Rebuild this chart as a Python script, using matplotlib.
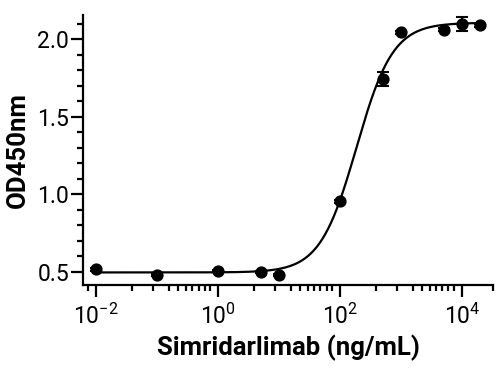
import matplotlib
matplotlib.use("Agg")
import matplotlib.pyplot as plt
import matplotlib.ticker as mticker
import numpy as np

plt.rcParams['font.family'] = ['Roboto', 'DejaVu Sans']
plt.rcParams['mathtext.fontset'] = 'custom'
plt.rcParams['mathtext.rm'] = 'Roboto'
plt.rcParams['mathtext.default'] = 'regular'

# measured points (ng/mL vs OD450)
conc = [0.01, 0.1, 1, 5, 10, 100, 500, 1000, 5000, 10000, 20000]
od = [0.515, 0.479, 0.506, 0.498, 0.480, 0.955, 1.741, 2.045, 2.061, 2.100, 2.088]
sd = [0.008, 0.006, 0.006, 0.006, 0.006, 0.010, 0.045, 0.010, 0.012, 0.045, 0.010]

# 4PL fit parameters
bottom, top, log_ec50, hill = 0.495, 2.105, 2.27, 1.45

x_major = [1e-2, 1e0, 1e2, 1e4]
x_labels = ['$10^{-2}$', '$10^{0}$', '$10^{2}$', '$10^{4}$']
minor_offsets = [0.59, 0.94, 1.20, 1.35, 1.47, 1.58, 1.68, 1.78, 1.87]

fig = plt.figure(figsize=(5.01, 3.70), dpi=100)
ax = fig.add_axes([83 / 501, 1 - 285 / 370, 410 / 501, 270 / 370])

lx = np.linspace(np.log10(conc[0]), np.log10(conc[-1]), 400)
fit = bottom + (top - bottom) / (1 + 10 ** ((log_ec50 - lx) * hill))
ax.plot(10 ** lx, fit, color='black', lw=1.6, zorder=2)

ax.errorbar(conc, od, yerr=sd, fmt='o', color='black', ms=7.8,
            capsize=4, capthick=1.5, elinewidth=1.5, zorder=3)

ax.set_xscale('log')
xmin, xmax = 10 ** -2.215, 10 ** 4.51
ax.set_xlim(xmin, xmax)
ax.set_ylim(0.414, 2.155)

ax.xaxis.set_major_locator(mticker.FixedLocator(x_major))
ax.xaxis.set_major_formatter(mticker.FixedFormatter(x_labels))
mins = []
for base in [-4, -2, 0, 2, 4]:
    for off in minor_offsets:
        v = 10 ** (base + off)
        if xmin <= v <= xmax:
            mins.append(v)
mins.append(xmax)
ax.xaxis.set_minor_locator(mticker.FixedLocator(mins))
ax.xaxis.set_minor_formatter(mticker.NullFormatter())

ax.yaxis.set_major_locator(mticker.FixedLocator([0.5, 1.0, 1.5, 2.0]))
ax.yaxis.set_major_formatter(mticker.FormatStrFormatter('%.1f'))
ax.yaxis.set_minor_locator(mticker.MultipleLocator(0.1))

for s in ['top', 'right']:
    ax.spines[s].set_visible(False)
for s in ['left', 'bottom']:
    ax.spines[s].set_linewidth(1.6)

ax.tick_params(which='major', length=8.5, width=1.6, labelsize=16.5, pad=1.5)
ax.tick_params(which='minor', length=4.5, width=1.6)
ax.tick_params(axis='x', which='major', pad=5)

ax.set_xlabel('Simridarlimab (ng/mL)', fontsize=18.5, fontweight='bold', labelpad=4)
ax.set_ylabel('OD450nm', fontsize=18.5, fontweight='bold', labelpad=5)

fig.savefig('out.png', dpi=100)
